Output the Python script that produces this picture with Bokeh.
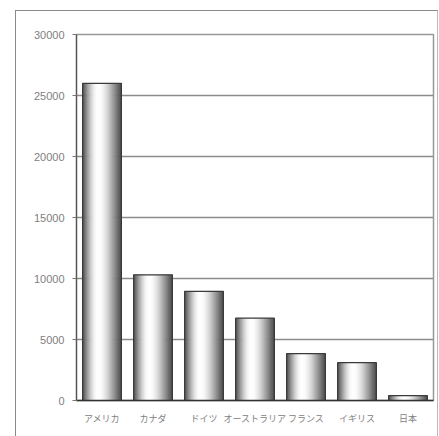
import math
from bokeh.plotting import figure
from bokeh.models import ColumnDataSource, FixedTicker, NumeralTickFormatter
from bokeh.transform import dodge
from bokeh.embed import file_html
from bokeh.resources import INLINE

categories = ["アメリカ", "カナダ", "ドイツ", "オーストラリア", "フランス", "イギリス", "日本"]
values = [26000, 10300, 8950, 6750, 3850, 3100, 400]
y_ticks = [0, 5000, 10000, 15000, 20000, 25000, 30000]

src = ColumnDataSource(dict(cat=categories, val=values))

p = figure(x_range=categories, y_range=(0, 30000), width=423, height=426,
           output_backend="svg", toolbar_location=None,
           min_border_left=60, min_border_right=6, min_border_top=23, min_border_bottom=37)
p.margin = (10, 0, 0, 15)
p.styles = {"border-left": "1.5px solid #8a8a8a", "border-top": "1.5px solid #8a8a8a",
            "border-right": "1px solid #bbbbbb", "box-sizing": "border-box"}
p.background_fill_color = "white"
p.border_fill_color = "white"
p.outline_line_color = "#999999"
p.outline_line_width = 1.5

# cylinder-like shading with narrow strips
bar_w = 0.76
N = 40
for i in range(N):
    t = (i + 0.5) / N
    if t >= 0.4:
        s = math.cos((t - 0.4) / 0.6 * math.pi / 2)
    else:
        s = math.cos((0.4 - t) / 0.4 * math.pi / 2)
    g = int(75 + 180 * max(0.0, s) ** 1.2)
    col = "#%02x%02x%02x" % (g, g, g)
    off = -bar_w / 2 + t * bar_w
    p.vbar(x=dodge("cat", off, range=p.x_range), top="val", width=bar_w / N * 1.6,
           source=src, fill_color=col, line_color=None)
p.vbar(x="cat", top="val", width=bar_w, source=src, fill_color=None,
       line_color="#3a3a3a", line_width=1.2)

p.xgrid.grid_line_color = None
p.ygrid.grid_line_color = "#8c8c8c"
p.ygrid.grid_line_width = 1.5

p.yaxis.ticker = FixedTicker(ticks=y_ticks)
p.yaxis.formatter = NumeralTickFormatter(format="0")
p.yaxis.axis_line_color = "#555555"
p.yaxis.axis_line_width = 1.2
p.yaxis.major_tick_line_color = "#777777"
p.yaxis.major_tick_in = 0
p.yaxis.major_tick_out = 4
p.yaxis.minor_tick_line_color = None
p.yaxis.major_label_text_color = "#808080"
p.yaxis.major_label_text_font = "Liberation Sans"
p.yaxis.major_label_text_font_size = "11px"
p.yaxis.major_label_standoff = 8

p.xaxis.axis_line_color = "#333333"
p.xaxis.axis_line_width = 1.5
p.xaxis.major_tick_line_color = None
p.xaxis.major_label_text_color = "#808080"
p.xaxis.major_label_text_font = "Noto Sans CJK JP"
p.xaxis.major_label_text_font_size = "9px"
p.xaxis.major_label_standoff = 5

open("out.html", "w").write(file_html(p, INLINE))
